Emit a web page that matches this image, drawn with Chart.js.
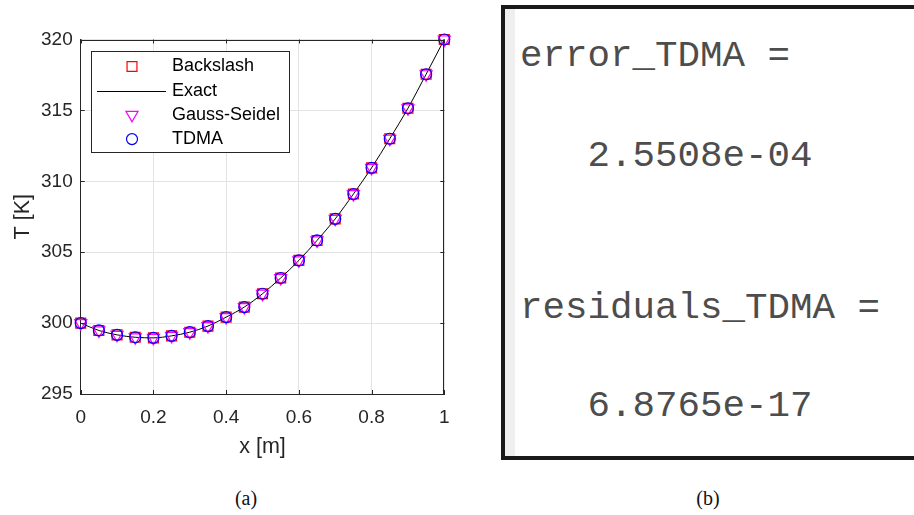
<!DOCTYPE html>
<html><head><meta charset="utf-8">
<script src="https://cdn.jsdelivr.net/npm/chart.js@4.4.1/dist/chart.umd.min.js"></script>
<style>
html,body{margin:0;padding:0;width:914px;height:515px;overflow:hidden;background:#fff;}
#wrap{position:absolute;left:0;top:0;width:470px;height:475px;}
#panel{position:absolute;left:501px;top:5px;width:460px;height:447px;border:4px solid #1a1a1a;border-right:none;background:#fff;}
#strip{position:absolute;left:0;top:0;width:10px;height:100%;background:#efefef;}
.m{position:absolute;left:15px;font-family:"Liberation Mono","DejaVu Sans Mono",monospace;font-size:37.5px;line-height:40px;color:#4d4d4d;white-space:pre;}
.cap{position:absolute;width:60px;text-align:center;font-family:"Liberation Serif","DejaVu Serif",serif;font-size:20px;line-height:20px;color:#111;}
</style></head>
<body>
<div id="wrap"><canvas id="c" width="470" height="475"></canvas></div>
<div id="panel"><div id="strip"></div>
<div class="m" style="top:27px">error_TDMA =</div>
<div class="m" style="top:127px">   2.5508e-04</div>
<div class="m" style="top:279px">residuals_TDMA =</div>
<div class="m" style="top:377px">   6.8765e-17</div>
</div>
<div class="cap" style="left:216px;top:488px">(a)</div>
<div class="cap" style="left:678px;top:488px">(b)</div>
<script>
const xValues      = [0,0.05,0.1,0.15,0.2,0.25,0.3,0.35,0.4,0.45,0.5,0.55,0.6,0.65,0.7,0.75,0.8,0.85,0.9,0.95,1];
const backslashT   = [300.00,299.48,299.17,299.00,298.96,299.10,299.36,299.79,300.42,301.13,302.07,303.18,304.42,305.83,307.35,309.10,310.95,313.00,315.15,317.55,320.00];
const exactT       = [300.00,299.48,299.17,299.00,298.96,299.10,299.36,299.79,300.42,301.13,302.07,303.18,304.42,305.83,307.35,309.10,310.95,313.00,315.15,317.55,320.00];
const gaussSeidelT = [300.00,299.48,299.17,299.00,298.96,299.10,299.36,299.79,300.42,301.13,302.07,303.18,304.42,305.83,307.35,309.10,310.95,313.00,315.15,317.55,320.00];
const tdmaT        = [300.00,299.48,299.17,299.00,298.96,299.10,299.36,299.79,300.42,301.13,302.07,303.18,304.42,305.83,307.35,309.10,310.95,313.00,315.15,317.55,320.00];
const xTickValues  = [0,0.2,0.4,0.6,0.8,1];
const yTickValues  = [295,300,305,310,315,320];
const seriesNames  = ['Backslash','Exact','Gauss-Seidel','TDMA'];
const xTitle = 'x [m]';
const yTitle = 'T [K]';

const pts = arr => xValues.map((x,i)=>({x:x,y:arr[i]}));
const AX = '#262626';
Chart.defaults.font.family = '"Liberation Sans", Arial, sans-serif';
Chart.defaults.font.size = 19;
Chart.defaults.color = AX;

const boxPlugin = {
  id:'matlabBox',
  afterDatasetsDraw(chart){
    const {ctx, chartArea:a, scales} = chart;
    ctx.save();
    ctx.strokeStyle = AX; ctx.lineWidth = 1;
    ctx.beginPath();
    ctx.moveTo(a.left, Math.round(a.top)+0.5); ctx.lineTo(a.right, Math.round(a.top)+0.5);
    ctx.moveTo(Math.round(a.right)-0.5, a.top); ctx.lineTo(Math.round(a.right)-0.5, a.bottom);
    const tl = 4;
    xTickValues.forEach(v=>{const px=Math.round(scales.x.getPixelForValue(v))+0.5;
      ctx.moveTo(px,a.bottom); ctx.lineTo(px,a.bottom-tl); ctx.moveTo(px,a.top); ctx.lineTo(px,a.top+tl);});
    yTickValues.forEach(v=>{const py=Math.round(scales.y.getPixelForValue(v))+0.5;
      ctx.moveTo(a.left,py); ctx.lineTo(a.left+tl,py); ctx.moveTo(a.right,py); ctx.lineTo(a.right-tl,py);});
    ctx.stroke();
    // legend
    const L = Math.round(a.left+10), T = Math.round(a.top+11.5), W = 198, H = 101;
    ctx.fillStyle = '#fff'; ctx.fillRect(L,T,W,H);
    ctx.strokeStyle = AX; ctx.strokeRect(L+0.5,T+0.5,W,H);
    const rowH = 24.2, first = 15.5;
    chart.data.datasets.forEach((ds,i)=>{
      const cy = T + first + i*rowH;
      const mx = L + 41;
      ctx.save();
      if (ds.showLine) {
        ctx.strokeStyle = ds.borderColor; ctx.lineWidth = ds.borderWidth;
        ctx.beginPath(); ctx.moveTo(L+6, Math.round(cy)+0.5); ctx.lineTo(L+75, Math.round(cy)+0.5); ctx.stroke();
      } else {
        ctx.strokeStyle = ds.pointBorderColor; ctx.fillStyle = 'rgba(0,0,0,0)'; ctx.lineWidth = ds.pointBorderWidth;
        Chart.helpers.drawPoint(ctx, {pointStyle: ds.pointStyle, rotation: ds.pointRotation||0, radius: ds.pointRadius, borderWidth: ds.pointBorderWidth}, mx, cy);
      }
      ctx.restore();
      ctx.fillStyle = '#000'; ctx.font = '18px "Liberation Sans", Arial, sans-serif';
      ctx.textBaseline = 'middle'; ctx.textAlign = 'left';
      ctx.fillText(seriesNames[i], L+81, cy);
    });
    ctx.restore();
  }
};

new Chart(document.getElementById('c'), {
  type:'scatter',
  data:{datasets:[
    {label:seriesNames[0], data:pts(backslashT), showLine:false, clip:false, pointStyle:'rect', pointRadius:7, pointBorderColor:'#ff0000', pointBackgroundColor:'rgba(0,0,0,0)', pointBorderWidth:1.2, order:3},
    {label:seriesNames[1], data:pts(exactT), showLine:true, clip:false, pointRadius:0, borderColor:'#000000', borderWidth:1, cubicInterpolationMode:'monotone', order:2},
    {label:seriesNames[2], data:pts(gaussSeidelT), showLine:false, clip:false, pointStyle:'triangle', pointRotation:180, pointRadius:7, pointBorderColor:'#ff00ff', pointBackgroundColor:'rgba(0,0,0,0)', pointBorderWidth:1.2, order:1},
    {label:seriesNames[3], data:pts(tdmaT), showLine:false, clip:false, pointStyle:'circle', pointRadius:5.5, pointBorderColor:'#0000ff', pointBackgroundColor:'rgba(0,0,0,0)', pointBorderWidth:1.2, order:0}
  ]},
  options:{
    responsive:false, animation:false, devicePixelRatio:1,
    layout:{padding:{top:39.5,right:25.7,bottom:0,left:0}},
    plugins:{legend:{display:false}, tooltip:{enabled:false}},
    scales:{
      x:{type:'linear', min:0, max:1,
         afterBuildTicks:s=>{s.ticks = xTickValues.map(v=>({value:v}));},
         afterFit:s=>{s.height = 81;},
         ticks:{padding:12, color:AX, callback:v=>String(+Number(v).toFixed(2))},
         grid:{color:'#e3e3e3', drawTicks:false},
         border:{display:true, color:AX, width:1},
         title:{display:true, text:xTitle, color:AX, font:{size:21.5}, padding:{top:0,bottom:15}}},
      y:{type:'linear', min:295, max:320,
         afterBuildTicks:s=>{s.ticks = yTickValues.map(v=>({value:v}));},
         afterFit:s=>{s.width = 80.7;},
         ticks:{padding:8, color:AX},
         grid:{color:'#e3e3e3', drawTicks:false},
         border:{display:true, color:AX, width:1},
         title:{display:true, text:yTitle, color:AX, font:{size:21.5}, padding:{top:10,bottom:0}}}
    }
  },
  plugins:[boxPlugin]
});
</script>
</body></html>
